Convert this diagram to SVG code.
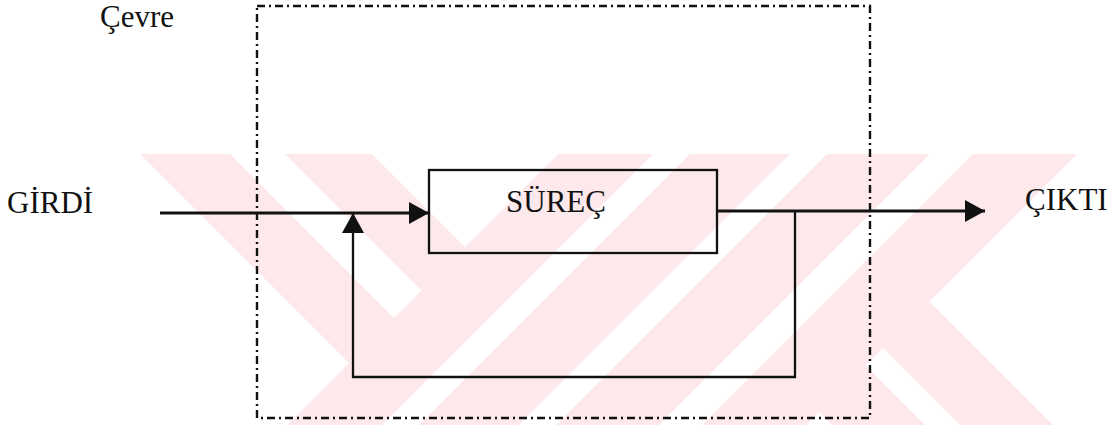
<svg xmlns="http://www.w3.org/2000/svg" width="1112" height="425" viewBox="0 0 1112 425">
  <defs>
    <style>
      .lbl { font-family: "Liberation Serif", "Times New Roman", serif; font-size: 31px; fill: #111; }
      .wire { fill: none; stroke: #111; stroke-width: 2.8; }
      .thin { fill: none; stroke: #111; stroke-width: 2.3; }
      .frame { fill: none; stroke: #111; stroke-width: 2.4; stroke-dasharray: 8 4 2 4; }
      .wm { fill: #fde8ec; }
    </style>
    <marker id="arrow" viewBox="0 0 20 22" refX="20" refY="11" markerWidth="20" markerHeight="22" markerUnits="userSpaceOnUse" orient="auto">
      <path d="M0,0 L20,11 L0,22 Z" fill="#111"/>
    </marker>
  </defs>

  <rect width="1112" height="425" fill="#ffffff"/>

  <!-- pale striped background mark -->
  <g id="watermark" class="wm">
    <polygon points="140,154 230,154 394,318 349,363"/>
    <polygon points="285,154 372,154 465,247 421.5,290.5"/>
    <polygon points="558,154 653,154 382,425 287,425"/>
    <polygon points="690,154 790,154 519,425 419,425"/>
    <polygon points="827,154 930,154 659,425 556,425"/>
    <polygon points="973,154 1077,154 806,425 702,425"/>
    <polygon points="929.5,301.5 1053,425 960,425 883,348"/>
    <polygon points="865.5,365.5 925,425 832,425 819,412"/>
  </g>

  <!-- environment boundary -->
  <g id="cevre">
    <rect class="frame" x="257" y="6" width="613" height="412"/>
    <text class="lbl" x="100" y="27">Çevre</text>
  </g>

  <g id="girdi">
    <text class="lbl" x="7" y="213">GİRDİ</text>
  </g>

  <g id="surec">
    <rect x="429" y="170" width="288" height="83" fill="none" stroke="#111" stroke-width="2.3"/>
    <text class="lbl" x="506" y="212">SÜREÇ</text>
  </g>

  <g id="cikti">
    <text class="lbl" x="1025" y="210">ÇIKTI</text>
  </g>

  <g id="connectors">
    <path class="wire" d="M160,213 H429" marker-end="url(#arrow)"/>
    <path class="wire" d="M717,211 H985" marker-end="url(#arrow)"/>
    <path class="thin" d="M795,211 V377 H353 V213" marker-end="url(#arrow)"/>
  </g>
</svg>
